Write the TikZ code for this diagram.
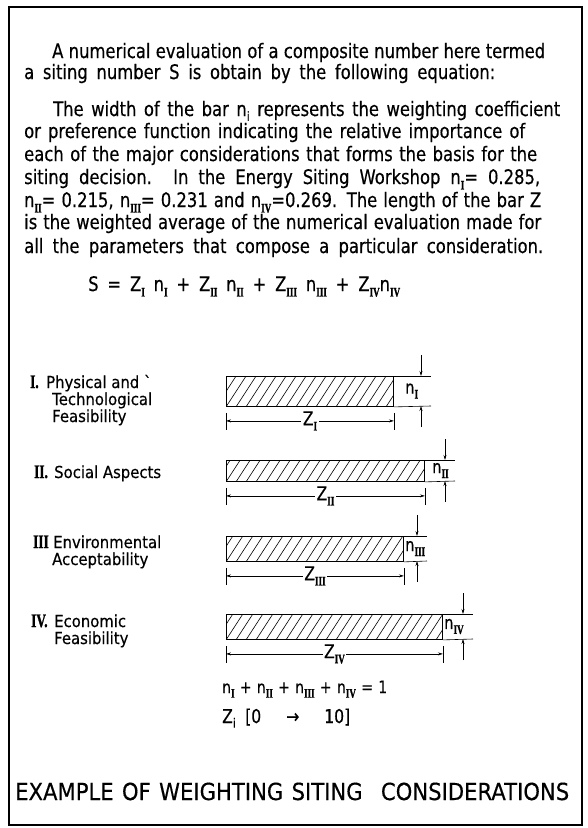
\documentclass[tikz,border=0pt]{standalone}
\usepackage{fontspec}
\usetikzlibrary{arrows.meta}
\newfontfamily\lett{DejaVu Sans}[FakeStretch=0.82,FakeBold=0.4]
\newfontfamily\labf{DejaVu Sans}[FakeStretch=0.9,FakeBold=0.4]
\newfontfamily\capf{DejaVu Sans}[FakeStretch=0.9,FakeBold=0.4]
\newfontfamily\romnum{Liberation Serif}[FakeStretch=0.7,FakeBold=1.2]
\newcommand\fsz[1]{\fontsize{#1}{#1}\selectfont}
\newcommand\rn[1]{\raisebox{-0.5ex}{\romnum\bfseries\fsz{13}#1}}
\newcommand\sbi{\raisebox{-0.45ex}{\fsz{13}i}}
\tikzset{
 txt/.style={anchor=base west, inner sep=0pt, font={\lett\fsz{20}}},
 lab/.style={anchor=base west, inner sep=0pt, font={\labf\fsz{16.5}}},
 num/.style={anchor=base west, inner sep=0pt, font={\romnum\bfseries\fsz{19}}},
 bar/.style={draw, line width=0.9pt, inner sep=0pt, anchor=north west},
 hatch/.style={line width=0.6pt},
 thinl/.style={line width=0.6pt},
 dimarr/.style={line width=0.6pt, {Stealth[length=5pt,width=3pt]}-{Stealth[length=5pt,width=3pt]}},
 narr/.style={line width=0.6pt, -{Stealth[length=5pt,width=3pt]}},
}
% #1 id, #2 left x, #3 top y, #4 width, #5 height, #6 tick x, #7 numeral, #8 label x
\newcommand\bargroup[8]{%
 \node[bar, minimum width=#4pt, minimum height=#5pt] (b#1) at (#2,#3) {};
 \begin{scope}
  \clip (b#1.south west) rectangle (b#1.north east);
  \foreach \xx in {-20,-10,...,#4} \draw[hatch] ([xshift=\xx pt]b#1.south west) -- ++({0.65*#5},-#5);
 \end{scope}
 \coordinate (zl#1) at ([yshift=-14pt]b#1.south west);
 \coordinate (zr#1) at ([yshift=-14pt]b#1.south east);
 \draw[thinl] ([yshift=-6pt]b#1.south west) -- ([yshift=-23pt]b#1.south west);
 \draw[thinl] ([yshift=-6pt]b#1.south east) -- ([yshift=-23pt]b#1.south east);
 \draw[dimarr] (zl#1) -- (zr#1) node[midway, fill=white, inner sep=1.5pt, font={\lett\fsz{19}}] (z#1) {Z\rn{#7}};
 \coordinate (nt#1) at (#6,#3);
 \coordinate (nb#1) at (#6,{#3+#5});
 \draw[thinl] (b#1.north east) -- ([xshift=10pt]nt#1);
 \draw[thinl] (b#1.south east) -- ([xshift=10pt]nb#1);
 \draw[narr] ([yshift=21pt]nt#1) -- (nt#1);
 \draw[narr] ([yshift=-21pt]nb#1) -- (nb#1);
 \node[anchor=west, inner sep=0pt, font={\lett\fsz{18}}] (n#1) at (#8,{#3+#5/2}) {n\rn{#7}};
}
\begin{document}
\begin{tikzpicture}[x=1pt,y=-1pt]
\useasboundingbox (0,0) rectangle (587,828);
\fill[white] (0,0) rectangle (587,828);
\draw[line width=1.5pt] (9,7) rectangle (582,825);

\node[txt] (l1) at (52,58) {\makebox[493pt][s]{A numerical evaluation of a composite number here termed}};
\node[txt] (l2) at (24,79) {\makebox[471pt][s]{a siting number S is obtain by the following equation:}};
\node[txt] (l3) at (53,116) {\makebox[507pt][s]{The width of the bar n\sbi{} represents the weighting coefficient}};
\node[txt] (l4) at (24,138) {\makebox[501pt][s]{or preference function indicating the relative importance of}};
\node[txt] (l5) at (24,161) {\makebox[513pt][s]{each of the major considerations that forms the basis for the}};
\node[txt] (l6) at (24,184) {\makebox[516pt][s]{siting decision. In the Energy Siting Workshop n\rn{I}= 0.285,}};
\node[txt] (l7) at (24,207) {\makebox[517pt][s]{n\rn{II}= 0.215, n\rn{III}= 0.231 and n\rn{IV}=0.269. The length of the bar Z}};
\node[txt] (l8) at (24,229) {\makebox[517pt][s]{is the weighted average of the numerical evaluation made for}};
\node[txt] (l9) at (24,253) {\makebox[519pt][s]{all the parameters that compose a particular consideration.}};
\node[txt] (eq) at (88,291) {\makebox[312pt][s]{S = Z\rn{I} n\rn{I} + Z\rn{II} n\rn{II} + Z\rn{III} n\rn{III} + Z\rn{IV}n\rn{IV}}};

\node[num] (r1) at (30,388) {I.};
\node[lab] (t1a) at (46,388) {Physical and `};
\node[lab] (t1b) at (52,405) {Technological};
\node[lab] (t1c) at (52,422) {Feasibility};
\node[num] (r2) at (34,478) {II.};
\node[lab] (t2a) at (54,478) {Social Aspects};
\node[num] (r3) at (33,548) {III};
\node[lab] (t3a) at (53,548) {Environmental};
\node[lab] (t3b) at (52,565) {Acceptability};
\node[num] (r4) at (31,627) {IV.};
\node[lab] (t4a) at (54,627) {Economic};
\node[lab] (t4b) at (54,644) {Feasibility};

\bargroup{1}{226}{376}{167}{30}{421}{I}{405}
\bargroup{2}{226}{460}{198}{21}{445}{II}{432}
\bargroup{3}{226}{536}{177}{25}{417}{III}{405}
\bargroup{4}{226}{614}{216}{25}{463}{IV}{444}

\node[anchor=base west, inner sep=0pt, font={\lett\fsz{17}}] (sum) at (222,693) {\makebox[165pt][s]{n\rn{I} + n\rn{II} + n\rn{III} + n\rn{IV} = 1}};
\node[anchor=base west, inner sep=0pt, font={\lett\fsz{19}}] (zi) at (222,723) {Z\sbi};
\node[anchor=base west, inner sep=0pt, font={\lett\fsz{19}}] (rng) at (245,723) {\makebox[105pt][s]{[0 → 10]}};
\node[anchor=base west, inner sep=0pt, font={\capf\fsz{23.5}}] (cap) at (15,800) {\makebox[554pt][s]{EXAMPLE OF WEIGHTING SITING\hspace{10pt} CONSIDERATIONS}};
\end{tikzpicture}
\end{document}
